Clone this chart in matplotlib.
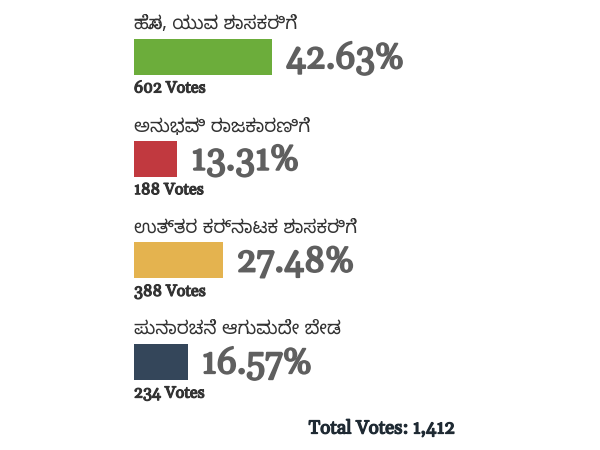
import matplotlib
matplotlib.use("Agg")
import matplotlib.pyplot as plt
import matplotlib.patheffects as pe

# poll data
labels = ["ಹೊಸ, ಯುವ ಶಾಸಕರಿಗೆ", "ಅನುಭವಿ ರಾಜಕಾರಣಿಗೆ",
          "ಉತ್ತರ ಕರ್ನಾಟಕ ಶಾಸಕರಿಗೆ", "ಪುನಾರಚನೆ ಆಗುವುದೇ ಬೇಡ"]
percents = [42.63, 13.31, 27.48, 16.57]
votes = [602, 188, 388, 234]
total_votes = 1412
colors = ["#6cad3b", "#c1393f", "#e4b34f", "#34465a"]

kn_font = ["Noto Sans Kannada", "DejaVu Sans"]
serif = ["Gelasio", "DejaVu Serif"]


def bold(c, w):
    # gelasio only comes in one weight here, fake the bold with a stroke
    return [pe.withStroke(linewidth=w, foreground=c)]


fig = plt.figure(figsize=(6, 4.5), dpi=100)
ax = fig.add_axes([0, 0, 1, 1])
# 1% = 3.24 px, bars start at x = 134 px ; y axis in pixels from top
px = 3.24
ax.set_xlim(-134 / px, (600 - 134) / px)
ax.set_ylim(450, 0)
ax.axis("off")

step = 101.7
for i in range(len(labels)):
    yc = 57 + i * step
    ax.barh(yc, percents[i], height=36, left=0, color=colors[i])
    ax.text(0, yc - 33, labels[i], fontsize=13.3, family=kn_font,
            color="#333333", va="center", ha="left")
    ax.annotate("%.2f%%" % percents[i], xy=(percents[i], yc), xytext=(10, -1),
                textcoords="offset points", va="center", ha="left",
                fontsize=25.5, family=serif, color="#5f5f5f",
                path_effects=bold("#5f5f5f", 1.3))
    ax.text(0, yc + 31, "%d Votes" % votes[i], fontsize=11.6, family=serif,
            color="#333333", va="center", ha="left",
            path_effects=bold("#333333", 0.8))

ax.text(455 / 600, 1 - 429 / 450, "Total Votes: {:,}".format(total_votes),
        transform=ax.transAxes, fontsize=13.5, family=serif,
        color="#1f2a33", va="center", ha="right",
        path_effects=bold("#1f2a33", 0.9))

fig.savefig("out.png", dpi=100)
